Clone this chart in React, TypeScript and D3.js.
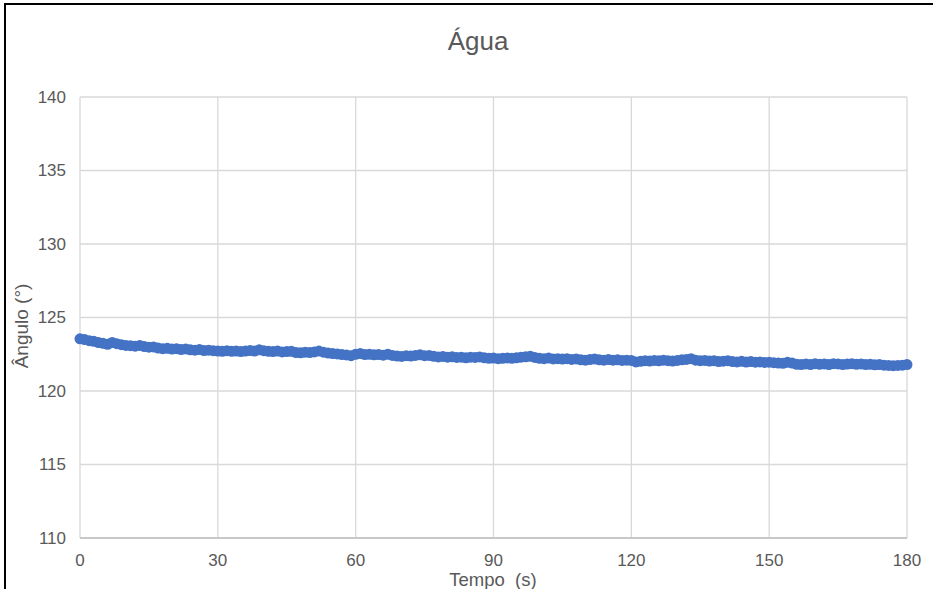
import React from "react";
import * as d3 from "d3";

const TITLE = "Água";
const X_TITLE = "Tempo  (s)";
const Y_TITLE = "Ângulo (°)";
const xTicks = [0, 30, 60, 90, 120, 150, 180];
const yTicks = [110, 115, 120, 125, 130, 135, 140];

// Tempo (s) 0..180, one sample per second
const angulo = [
  123.55, 123.5, 123.42, 123.38, 123.3, 123.24, 123.18, 123.3, 123.22, 123.15,
  123.1, 123.08, 123.05, 123.1, 123.02, 122.98, 123.0, 122.92, 122.88, 122.9,
  122.85, 122.88, 122.82, 122.86, 122.8, 122.78, 122.82, 122.75, 122.78, 122.74,
  122.72, 122.7, 122.74, 122.7, 122.72, 122.68, 122.72, 122.75, 122.72, 122.8,
  122.74, 122.7, 122.68, 122.72, 122.66, 122.68, 122.7, 122.62, 122.6, 122.64,
  122.62, 122.66, 122.72, 122.64, 122.58, 122.55, 122.52, 122.48, 122.45, 122.4,
  122.5, 122.55, 122.48, 122.5, 122.46, 122.48, 122.44, 122.5, 122.42, 122.38,
  122.35, 122.4, 122.38, 122.42, 122.46, 122.4, 122.42, 122.36, 122.32, 122.35,
  122.3, 122.33, 122.28, 122.3, 122.26, 122.3, 122.28, 122.32, 122.26, 122.22,
  122.24, 122.2, 122.22, 122.25, 122.22, 122.26, 122.3, 122.33, 122.36, 122.28,
  122.22, 122.2, 122.24, 122.18, 122.2, 122.17, 122.2, 122.15, 122.18, 122.12,
  122.1, 122.14, 122.18, 122.12, 122.1, 122.14, 122.1, 122.12, 122.08, 122.1,
  122.08, 121.98, 122.02, 122.06, 122.04, 122.08, 122.05, 122.1, 122.06, 122.04,
  122.08, 122.12, 122.15, 122.2, 122.1, 122.06, 122.08, 122.04, 122.06, 122.0,
  122.03, 122.06, 122.0, 121.98, 122.02, 121.97, 122.0, 121.96, 121.98, 121.94,
  121.96, 121.93, 121.9, 121.88, 121.95, 121.9, 121.82, 121.8, 121.84, 121.8,
  121.86, 121.82, 121.84, 121.8, 121.86, 121.84, 121.8, 121.83, 121.86, 121.82,
  121.84, 121.8, 121.82, 121.78, 121.8, 121.76, 121.74, 121.72, 121.74, 121.76,
  121.8,
];
const tempo = angulo.map((_, i) => i);

const W = 933;
const H = 589;
const FONT = "'Liberation Sans', Arial, sans-serif";
const TEXT = "#595959";
const GRID = "#d9d9d9";

export default function App() {
  const x = d3.scaleLinear().domain([0, 180]).range([80, 907]);
  const y = d3.scaleLinear().domain([110, 140]).range([538, 97]);
  const data = tempo.map((t, i) => ({ t, v: angulo[i] }));

  return (
    <svg
      width={W}
      height={H}
      style={{ position: "absolute", left: 0, top: 0, background: "#fff" }}
      fontFamily={FONT}
    >
      <rect x={0} y={0} width={W} height={H} fill="#fff" />
      {/* frame */}
      <line x1={5} x2={5} y1={3} y2={H} stroke="#000" strokeWidth={2} />
      <line x1={4} x2={W} y1={4} y2={4} stroke="#000" strokeWidth={2} />

      <text x={478} y={50} textAnchor="middle" fontSize={26} fill={TEXT}>
        {TITLE}
      </text>

      {yTicks.map((v) => (
        <g key={"y" + v}>
          <line x1={80} x2={907} y1={y(v)} y2={y(v)} stroke={GRID} strokeWidth={1.3} />
          <text x={66} y={y(v)} dy="0.35em" textAnchor="end" fontSize={17} fill={TEXT}>
            {v}
          </text>
        </g>
      ))}
      {xTicks.map((v) => (
        <g key={"x" + v}>
          <line x1={x(v)} x2={x(v)} y1={97} y2={538} stroke={GRID} strokeWidth={1.3} />
          <text x={x(v)} y={566} textAnchor="middle" fontSize={17} fill={TEXT}>
            {v}
          </text>
        </g>
      ))}
      <line x1={80} x2={907} y1={538} y2={538} stroke="#bfbfbf" strokeWidth={1.3} />

      <text
        x={493}
        y={586}
        textAnchor="middle"
        fontSize={18.5}
        fill={TEXT}
        style={{ whiteSpace: "pre" }}
      >
        {X_TITLE}
      </text>
      <text
        transform={`translate(28,326) rotate(-90)`}
        textAnchor="middle"
        fontSize={19}
        fill={TEXT}
      >
        {Y_TITLE}
      </text>

      <g fill="#4472C4">
        {data.map((d) => (
          <circle key={d.t} cx={x(d.t)} cy={y(d.v)} r={5.5} />
        ))}
      </g>
    </svg>
  );
}
